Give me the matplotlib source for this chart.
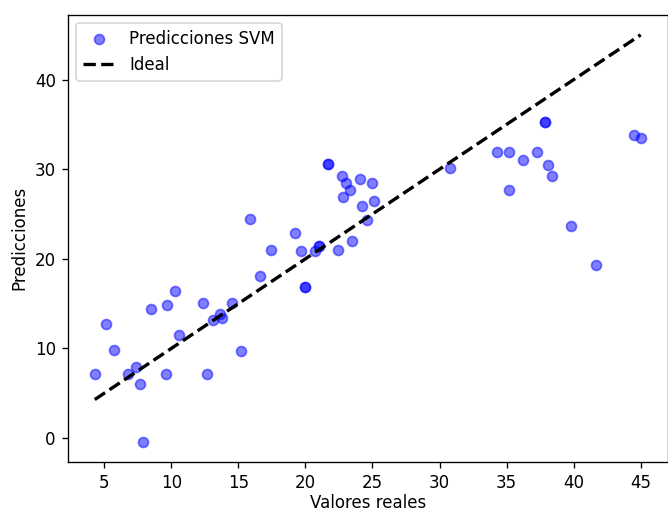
import matplotlib
matplotlib.use("Agg")
import matplotlib.pyplot as plt

# valores reales (eje x) y predicciones SVM (eje y)
y_real = [4.3, 5.1, 5.7, 6.8, 7.4, 7.7, 7.9, 8.5, 9.7, 10.3, 9.6, 10.6,
          12.4, 12.7, 13.1, 13.6, 13.8, 14.5, 15.2, 15.9, 19.2, 17.4,
          19.7, 20.7, 21.0, 21.0, 22.4, 23.5, 16.6, 20.0, 20.0,
          21.7, 21.7, 22.7, 23.0, 23.3, 22.8, 24.1, 25.0, 24.2, 25.1, 24.6,
          30.8, 34.3, 35.2, 36.2, 37.3, 38.1, 38.4, 35.2, 39.8, 41.7,
          37.9, 37.9, 44.5, 45.0]
y_pred = [7.2, 12.7, 9.8, 7.1, 7.9, 6.0, -0.4, 14.4, 14.9, 16.4, 7.2, 11.5,
          15.1, 7.2, 13.2, 13.8, 13.4, 15.1, 9.7, 24.4, 22.9, 21.0,
          20.9, 20.9, 21.4, 21.4, 21.0, 22.0, 18.1, 16.9, 16.9,
          30.6, 30.6, 29.3, 28.5, 27.7, 26.9, 28.9, 28.5, 25.9, 26.5, 24.3,
          30.1, 31.9, 31.9, 31.0, 31.9, 30.5, 29.3, 27.7, 23.7, 19.3,
          35.3, 35.3, 33.8, 33.5]

fig = plt.figure(figsize=(668 / 120, 512 / 120), dpi=120)
ax = fig.add_axes([67.5 / 668, 50 / 512, 600.5 / 668, 447.5 / 512])

ax.scatter(y_real, y_pred, color='blue', alpha=0.5, label='Predicciones SVM')
lo = min(y_real)
hi = max(y_real)
ax.plot([lo, hi], [lo, hi], 'k--', lw=2, label='Ideal')

ax.set_xlabel('Valores reales', labelpad=1.5)
ax.set_ylabel('Predicciones')
ax.legend(loc='upper left')

fig.savefig('out.png', dpi=120)
